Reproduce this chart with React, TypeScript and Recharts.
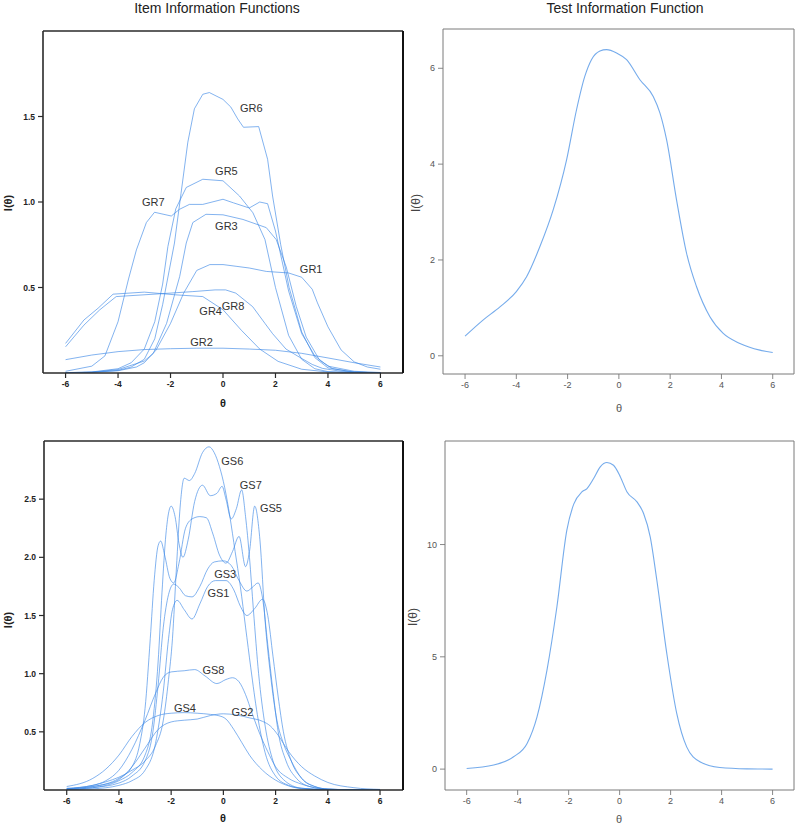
import React from 'react';
import { LineChart, Line, XAxis, YAxis, ReferenceDot } from 'recharts';

type Pt = [number, number];

// ---------- tick values ----------
const THETA_TICKS = [-6, -4, -2, 0, 2, 4, 6];
const GR_Y_TICKS = [0.5, 1.0, 1.5];
const GR_TIF_TICKS = [0, 2, 4, 6];
const GS_Y_TICKS = [0.5, 1.0, 1.5, 2.0, 2.5];
const GS_TIF_TICKS = [0, 5, 10];

// ---------- item information, GR items (theta, I) ----------
const GR1: Pt[] = [[-6,0.001],[-5,0.004],[-4,0.013],[-3.3,0.035],[-3,0.06],[-2.55,0.134],[-2,0.29],[-1.5,0.467],[-1,0.6],[-0.5,0.634],[0,0.634],[0.5,0.624],[1,0.614],[1.65,0.594],[2.5,0.585],[3,0.56],[3.4,0.49],[3.6,0.41],[4,0.27],[4.5,0.135],[5,0.065],[5.5,0.035],[6,0.022]];
const GR2: Pt[] = [[-6,0.078],[-5,0.105],[-4,0.125],[-3,0.137],[-2,0.142],[-1,0.145],[0,0.145],[1,0.14],[2,0.133],[3,0.115],[4,0.088],[5,0.06],[6,0.035]];
const GR3: Pt[] = [[-6,0.002],[-5,0.005],[-4,0.02],[-3,0.07],[-2.66,0.114],[-2.15,0.29],[-1.65,0.565],[-1.4,0.76],[-1.15,0.88],[-0.65,0.928],[0,0.925],[0.76,0.898],[1.65,0.85],[2.03,0.78],[2.41,0.62],[2.79,0.39],[3.17,0.21],[3.68,0.075],[4.18,0.025],[5,0.005],[6,0.001]];
const GR4: Pt[] = [[-6,0.173],[-5.3,0.31],[-4.76,0.379],[-4.19,0.461],[-3,0.473],[-1.8,0.457],[-0.77,0.447],[0,0.37],[0.7,0.25],[1.4,0.14],[2.1,0.068],[3,0.022],[4,0.006],[5,0.002],[6,0.001]];
const GR5: Pt[] = [[-6,0.002],[-5,0.006],[-4,0.025],[-3.5,0.06],[-3,0.14],[-2.6,0.3],[-2.3,0.52],[-2.1,0.74],[-1.8,0.96],[-1.4,1.085],[-0.77,1.133],[0,1.124],[0.63,1.035],[1.14,0.937],[1.6,0.78],[2,0.5],[2.5,0.22],[3,0.08],[3.5,0.025],[4,0.008],[5,0.002],[6,0]];
const GR6: Pt[] = [[-6,0.001],[-5,0.004],[-4,0.015],[-3.5,0.035],[-3,0.08],[-2.6,0.2],[-2.3,0.4],[-2.05,0.6],[-1.85,0.76],[-1.6,1.05],[-1.34,1.35],[-1.09,1.545],[-0.77,1.63],[-0.52,1.64],[0,1.6],[0.3,1.555],[0.56,1.486],[0.78,1.437],[1.36,1.441],[1.7,1.25],[1.89,1.035],[2.2,0.75],[2.52,0.5],[3,0.24],[3.5,0.09],[4,0.03],[5,0.005],[6,0.001]];
const GR7: Pt[] = [[-6,0.01],[-5,0.04],[-4.5,0.1],[-4,0.3],[-3.6,0.55],[-3.3,0.72],[-2.92,0.88],[-2.61,0.94],[-1.97,0.918],[-1.66,0.957],[-1.28,0.986],[-0.77,0.986],[0,1.016],[0.4,0.995],[1.0,0.965],[1.4,1.0],[1.7,0.99],[2.0,0.83],[2.5,0.48],[3,0.23],[3.5,0.1],[4,0.04],[5,0.01],[6,0.003]];
const GR8: Pt[] = [[-6,0.153],[-5.3,0.28],[-4.7,0.369],[-4.07,0.447],[-2.42,0.463],[-1.15,0.476],[-0.3,0.486],[0.1,0.486],[0.49,0.467],[1.13,0.388],[1.6,0.29],[1.89,0.23],[2.4,0.14],[2.9,0.094],[3.4,0.05],[3.79,0.027],[4.5,0.01],[5.5,0.003],[6,0.002]];

// ---------- test information, GR ----------
const GR_TIF: Pt[] = [[-6,0.41],[-5.3,0.745],[-4.64,1.02],[-4,1.34],[-3.6,1.65],[-3.08,2.28],[-2.56,3.05],[-2.04,4.09],[-1.65,5.14],[-1.33,5.83],[-1.07,6.18],[-0.74,6.36],[-0.48,6.39],[-0.09,6.32],[0.3,6.18],[0.82,5.76],[1.34,5.41],[1.6,5.07],[1.86,4.51],[2.25,3.25],[2.64,2.14],[3.03,1.44],[3.55,0.815],[4.07,0.467],[4.72,0.258],[5.5,0.118],[6,0.07]];

// ---------- item information, GS items ----------
const GS1: Pt[] = [[-6,0.003],[-5,0.01],[-4,0.04],[-3.5,0.08],[-3,0.17],[-2.6,0.4],[-2.3,0.85],[-2.1,1.3],[-1.95,1.55],[-1.77,1.63],[-1.5,1.55],[-1.2,1.47],[-0.9,1.6],[-0.6,1.75],[-0.3,1.8],[0.1,1.8],[0.4,1.72],[0.65,1.58],[0.9,1.5],[1.2,1.56],[1.5,1.64],[1.7,1.5],[1.9,1.15],[2.1,0.8],[2.3,0.5],[2.6,0.25],[3,0.1],[3.5,0.03],[4,0.008],[5,0.001],[6,0]];
const GS2: Pt[] = [[-6,0.01],[-5,0.03],[-4.5,0.05],[-4,0.09],[-3.5,0.2],[-3,0.36],[-2.5,0.52],[-2,0.585],[-1.5,0.6],[-1,0.61],[-0.5,0.64],[0,0.655],[0.5,0.645],[1,0.62],[1.5,0.59],[1.8,0.55],[2.1,0.47],[2.5,0.33],[3,0.2],[3.5,0.12],[4,0.065],[5,0.02],[6,0.005]];
const GS3: Pt[] = [[-6,0.005],[-5,0.02],[-4,0.06],[-3.5,0.12],[-3,0.25],[-2.7,0.5],[-2.5,0.9],[-2.3,1.4],[-2.1,1.68],[-1.9,1.77],[-1.7,1.74],[-1.45,1.67],[-1.2,1.66],[-0.9,1.75],[-0.6,1.9],[-0.35,1.96],[0,1.97],[0.3,1.93],[0.6,1.8],[0.9,1.71],[1.1,1.74],[1.33,1.78],[1.5,1.65],[1.7,1.25],[1.9,0.85],[2.1,0.5],[2.4,0.25],[2.8,0.1],[3.3,0.03],[4,0.005],[6,0]];
const GS4: Pt[] = [[-6,0.03],[-5,0.1],[-4.5,0.18],[-4,0.3],[-3.5,0.46],[-3,0.58],[-2.5,0.64],[-2,0.66],[-1.5,0.665],[-1,0.66],[-0.5,0.65],[-0.2,0.64],[0.1,0.61],[0.4,0.52],[0.7,0.41],[1,0.3],[1.5,0.17],[2,0.085],[2.5,0.035],[3,0.012],[4,0.002],[6,0]];
const GS5: Pt[] = [[-6,0.01],[-5,0.03],[-4,0.1],[-3.5,0.2],[-3.2,0.4],[-3,0.7],[-2.8,1.3],[-2.65,1.8],[-2.5,2.1],[-2.4,2.14],[-2.25,2.02],[-2.05,1.82],[-1.9,1.78],[-1.7,1.95],[-1.45,2.25],[-1.2,2.33],[-0.9,2.35],[-0.65,2.34],[-0.4,2.2],[-0.15,2.02],[0.1,1.95],[0.35,2.05],[0.6,2.18],[0.85,1.92],[1.0,2.05],[1.2,2.44],[1.4,2.15],[1.6,1.45],[1.8,1.0],[2.05,0.6],[2.3,0.4],[2.6,0.25],[3,0.1],[3.5,0.03],[4,0.008],[5,0.001],[6,0]];
const GS6: Pt[] = [[-6,0.01],[-5,0.04],[-4.5,0.07],[-4,0.11],[-3.5,0.17],[-3,0.25],[-2.6,0.38],[-2.3,0.6],[-2.1,0.95],[-1.95,1.3],[-1.8,1.9],[-1.65,2.45],[-1.5,2.68],[-1.3,2.66],[-1.1,2.72],[-0.8,2.9],[-0.55,2.95],[-0.35,2.9],[-0.15,2.78],[0.05,2.6],[0.25,2.35],[0.45,2.05],[0.65,1.75],[0.85,1.4],[1.05,1.05],[1.3,0.65],[1.6,0.32],[2,0.12],[2.5,0.04],[3,0.015],[4,0.003],[5,0.001],[6,0]];
const GS7: Pt[] = [[-6,0.005],[-5,0.02],[-4,0.08],[-3.5,0.15],[-3,0.3],[-2.7,0.6],[-2.5,1.1],[-2.35,1.7],[-2.2,2.2],[-2.0,2.44],[-1.85,2.35],[-1.7,2.12],[-1.55,2.0],[-1.35,2.15],[-1.1,2.48],[-0.8,2.62],[-0.5,2.53],[-0.25,2.55],[-0.05,2.61],[0.1,2.5],[0.3,2.33],[0.5,2.42],[0.7,2.58],[0.85,2.35],[1.0,2.0],[1.15,1.55],[1.35,1.0],[1.6,0.55],[1.9,0.25],[2.3,0.09],[3,0.015],[4,0.003],[6,0]];
const GS8: Pt[] = [[-6,0.015],[-5,0.04],[-4.5,0.08],[-4,0.17],[-3.5,0.35],[-3,0.6],[-2.6,0.83],[-2.3,0.97],[-2,1.015],[-1.5,1.025],[-1.1,1.035],[-0.7,0.98],[-0.25,0.915],[0.1,0.95],[0.35,0.965],[0.6,0.93],[0.85,0.82],[1.1,0.66],[1.4,0.48],[1.7,0.33],[2,0.2],[2.5,0.1],[3,0.05],[3.5,0.02],[4,0.008],[5,0.002],[6,0]];

// ---------- test information, GS ----------
const GS_TIF: Pt[] = [[-6,0.03],[-4.94,0.18],[-4.16,0.55],[-3.63,1.14],[-3.24,2.33],[-2.85,4.41],[-2.46,7.23],[-2.07,10.64],[-1.8,11.8],[-1.48,12.34],[-1.28,12.49],[-1.02,12.94],[-0.76,13.46],[-0.5,13.65],[-0.24,13.53],[0.03,13.01],[0.29,12.34],[0.68,11.9],[0.94,11.38],[1.2,10.34],[1.46,8.41],[1.85,5.15],[2.24,2.48],[2.63,0.99],[3.15,0.33],[3.93,0.07],[5,0.01],[6,0]];

// ---------- curve labels (name, theta, I) ----------
const GR_NAMES = ['GR1','GR2','GR3','GR4','GR5','GR6','GR7','GR8'];
const GR_LABEL_X = [3.36, -0.82, 0.13, -0.47, 0.13, 1.08, -2.66, 0.38];
const GR_LABEL_Y = [0.61, 0.182, 0.86, 0.363, 1.18, 1.55, 1.0, 0.392];
const GS_NAMES = ['GS1','GS2','GS3','GS4','GS5','GS6','GS7','GS8'];
const GS_LABEL_X = [-0.19, 0.73, 0.07, -1.47, 1.82, 0.34, 1.05, -0.38];
const GS_LABEL_Y = [1.69, 0.668, 1.86, 0.706, 2.42, 2.83, 2.62, 1.035];

const GR_SERIES = [GR1, GR2, GR3, GR4, GR5, GR6, GR7, GR8];
const GS_SERIES = [GS1, GS2, GS3, GS4, GS5, GS6, GS7, GS8];

const FONT = '"Liberation Sans", Arial, sans-serif';

const toRows = (pts: Pt[]) => pts.map(([x, y]) => ({ x, y }));

type Frame = { l: number; r: number; t: number; b: number };

interface PanelProps {
  frame: Frame;
  xDomain: [number, number];
  yDomain: [number, number];
  yTicks: number[];
  series: Pt[][];
  curve: 'linear' | 'monotone';
  dark: boolean;
  lineColor: string;
  lineWidth: number;
  lineOpacity: number;
  yFmt: (v: number) => string;
  labelNames?: string[];
  labelX?: number[];
  labelY?: number[];
}

function Panel(p: PanelProps) {
  const yW = 40, rW = 8, tH = 8, bH = 30;
  const w = p.frame.r - p.frame.l + yW + rW;
  const h = p.frame.b - p.frame.t + tH + bH;
  const axisColor = p.dark ? '#2a2a2a' : '#7a7a7a';
  const axisW = p.dark ? 1.6 : 1;
  const tickStyle = p.dark
    ? { fontSize: 8.5, fontWeight: 700, fill: '#222', fontFamily: FONT }
    : { fontSize: 9, fontWeight: 400, fill: '#555', fontFamily: FONT };
  const line = { stroke: axisColor, strokeWidth: axisW };
  const tickLine = { stroke: axisColor, strokeWidth: p.dark ? 1.2 : 0.9 };
  return (
    <div style={{ position: 'absolute', left: p.frame.l - yW, top: p.frame.t - tH }}>
      <LineChart width={w} height={h} margin={{ top: 0, right: 0, bottom: 0, left: 0 }}>
        <XAxis xAxisId="b" type="number" dataKey="x" orientation="bottom" domain={p.xDomain}
          allowDataOverflow ticks={THETA_TICKS} height={bH} axisLine={line} tickLine={tickLine}
          tickSize={5} tickMargin={3} tick={tickStyle} interval={0} />
        <XAxis xAxisId="t" type="number" dataKey="x" orientation="top" domain={p.xDomain}
          allowDataOverflow ticks={THETA_TICKS} height={tH} axisLine={line} tickLine={tickLine}
          tickSize={5} tick={false} interval={0} />
        <YAxis yAxisId="l" type="number" orientation="left" domain={p.yDomain} allowDataOverflow
          ticks={p.yTicks} width={yW} axisLine={line} tickLine={tickLine} tickSize={5}
          tickMargin={3} tick={tickStyle} tickFormatter={p.yFmt} interval={0} />
        <YAxis yAxisId="r" type="number" orientation="right" domain={p.yDomain} allowDataOverflow
          ticks={p.yTicks} width={rW}
          axisLine={p.dark ? { stroke: '#111', strokeWidth: 2 } : line}
          tickLine={p.dark ? { stroke: '#111', strokeWidth: 1.4 } : tickLine}
          tickSize={5} tick={false} interval={0} />
        {p.series.map((s, i) => (
          <Line key={i} data={toRows(s)} dataKey="y" xAxisId="b" yAxisId="l" type={p.curve}
            dot={false} activeDot={false} stroke={p.lineColor} strokeWidth={p.lineWidth}
            strokeOpacity={p.lineOpacity} isAnimationActive={false} />
        ))}
        {(p.labelNames || []).map((n, i) => (
          <ReferenceDot key={n} xAxisId="b" yAxisId="l" x={p.labelX![i]} y={p.labelY![i]} r={0}
            fill="none" stroke="none"
            label={{ value: n, position: 'center', fontSize: 11, fill: '#333', fontFamily: FONT }} />
        ))}
      </LineChart>
    </div>
  );
}

function Txt(props: { x: number; y: number; size: number; bold?: boolean; color?: string; rotate?: boolean; children: React.ReactNode }) {
  return (
    <div style={{
      position: 'absolute', left: props.x, top: props.y,
      transform: `translate(-50%, -50%)${props.rotate ? ' rotate(-90deg)' : ''}`,
      fontFamily: FONT, fontSize: props.size, fontWeight: props.bold ? 700 : 400,
      color: props.color || '#222', whiteSpace: 'nowrap', lineHeight: 1,
    }}>{props.children}</div>
  );
}

export default function App() {
  const f1 = (v: number) => v.toFixed(1);
  const f0 = (v: number) => String(v);
  return (
    <div style={{ position: 'absolute', left: 0, top: 0, width: 800, height: 824, background: '#fff', overflow: 'hidden' }}>
      <Txt x={217} y={8} size={14}>Item Information Functions</Txt>
      <Txt x={625} y={8} size={14}>Test Information Function</Txt>

      <Panel frame={{ l: 43, r: 403, t: 31, b: 373 }} xDomain={[-6.86, 6.86]} yDomain={[0, 2.0]}
        yTicks={GR_Y_TICKS} series={GR_SERIES} curve="linear" dark lineColor="#3a86e6"
        lineWidth={0.9} lineOpacity={0.7} yFmt={f1}
        labelNames={GR_NAMES} labelX={GR_LABEL_X} labelY={GR_LABEL_Y} />
      <Panel frame={{ l: 443, r: 794, t: 29, b: 374 }} xDomain={[-6.86, 6.83]} yDomain={[-0.38, 6.82]}
        yTicks={GR_TIF_TICKS} series={[GR_TIF]} curve="monotone" dark={false} lineColor="#6ea6ea"
        lineWidth={1.1} lineOpacity={0.95} yFmt={f0} />
      <Panel frame={{ l: 44, r: 403, t: 441, b: 790 }} xDomain={[-6.87, 6.88]} yDomain={[0, 3.0]}
        yTicks={GS_Y_TICKS} series={GS_SERIES} curve="monotone" dark lineColor="#3a86e6"
        lineWidth={0.9} lineOpacity={0.7} yFmt={f1}
        labelNames={GS_NAMES} labelX={GS_LABEL_X} labelY={GS_LABEL_Y} />
      <Panel frame={{ l: 445, r: 794, t: 441, b: 790 }} xDomain={[-6.85, 6.84]} yDomain={[-0.93, 14.61]}
        yTicks={GS_TIF_TICKS} series={[GS_TIF]} curve="monotone" dark={false} lineColor="#6ea6ea"
        lineWidth={1.1} lineOpacity={0.95} yFmt={f0} />

      <Txt x={223} y={403} size={11} bold>θ</Txt>
      <Txt x={619} y={408} size={11} color="#555">θ</Txt>
      <Txt x={223} y={818} size={11} bold>θ</Txt>
      <Txt x={619} y={819} size={11} color="#555">θ</Txt>

      <Txt x={8} y={203} size={11} bold rotate>I(θ)</Txt>
      <Txt x={416} y={203} size={12} color="#444" rotate>I(θ)</Txt>
      <Txt x={8} y={620} size={11} bold rotate>I(θ)</Txt>
      <Txt x={413} y={617} size={12} color="#444" rotate>I(θ)</Txt>
    </div>
  );
}
